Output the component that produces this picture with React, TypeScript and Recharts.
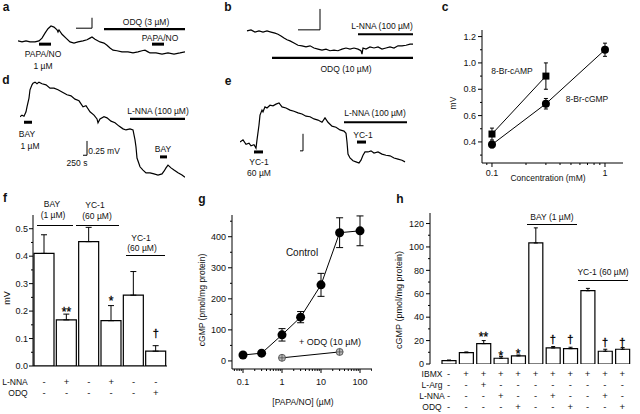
import React from "react"
import { ComposedChart, LineChart, Line, Bar, XAxis, YAxis, ErrorBar, ReferenceLine } from "recharts"

const FONT = "'Liberation Sans', Arial, Helvetica, sans-serif"
const INK = "#111"

// ---- recordings: [time (min), response (mV)] ----
const traceA: [number, number][] = [
  [0, 0.53], [4, 0.51], [8, 0.53], [12, 0.51], [17, 0.51], [21, 0.53], [24, 0.58], [27, 0.67], [30, 0.75],
  [33, 0.8], [36, 0.78], [39, 0.73], [40, 0.69], [41, 0.73], [44, 0.65], [48, 0.58], [52, 0.51], [56, 0.49],
  [60, 0.51], [65, 0.53], [69, 0.55], [72, 0.58], [74, 0.6], [77, 0.56], [82, 0.51], [86, 0.49], [89, 0.45],
  [92, 0.4], [95, 0.36], [99, 0.35], [104, 0.33], [110, 0.33], [115, 0.31], [120, 0.33], [124, 0.35],
  [127, 0.36], [130, 0.33], [132, 0.31], [138, 0.31], [144, 0.29], [150, 0.31], [156, 0.29], [162, 0.31], [167, 0.33],
]
const traceB: [number, number][] = [
  [2, 0.71], [6, 0.73], [10, 0.69], [14, 0.71], [18, 0.69], [22, 0.71], [26, 0.69], [30, 0.67], [33, 0.65],
  [36, 0.62], [39, 0.58], [42, 0.55], [45, 0.53], [49, 0.49], [53, 0.45], [57, 0.44], [61, 0.42], [65, 0.44],
  [69, 0.4], [73, 0.38], [77, 0.36], [81, 0.38], [85, 0.35], [89, 0.36], [93, 0.35], [97, 0.38], [101, 0.4],
  [105, 0.38], [109, 0.4], [113, 0.38], [116, 0.35], [117, 0.29], [118, 0.4], [121, 0.38], [125, 0.42],
  [129, 0.4], [133, 0.42], [137, 0.38], [141, 0.4], [145, 0.42], [149, 0.4], [153, 0.44], [157, 0.44],
  [161, 0.45], [165, 0.47], [168, 0.47],
]
const traceD: [number, number][] = [
  [0, 1.15], [2, 1.18], [4, 1.16], [6, 1.24], [7, 1.33], [9, 1.49], [10, 1.64], [12, 1.73], [13, 1.76],
  [15, 1.78], [17, 1.75], [19, 1.78], [22, 1.75], [26, 1.73], [30, 1.67], [34, 1.67], [38, 1.64], [42, 1.6],
  [47, 1.55], [51, 1.53], [55, 1.47], [59, 1.44], [63, 1.33], [66, 1.35], [70, 1.24], [74, 1.18], [77, 1.11],
  [78, 1.04], [80, 1.11], [84, 1.15], [87, 1.13], [91, 1.07], [95, 1.04], [99, 0.98], [103, 0.93], [106, 0.91],
  [110, 0.93], [113, 0.91], [115, 0.73], [116, 0.6], [117, 0.4], [120, 0.24], [123, 0.18], [126, 0.13],
  [130, 0.13], [134, 0.11], [138, 0.09], [142, 0.11], [144, 0.16], [146, 0.22], [148, 0.27], [151, 0.22],
  [154, 0.18], [158, 0.13], [162, 0.09], [165, 0.05],
]
const traceE: [number, number][] = [
  [0, 0.69], [3, 0.73], [6, 0.65], [9, 0.67], [11, 0.62], [14, 0.64], [16, 0.58], [17, 0.73], [19, 1.0],
  [20, 1.18], [22, 1.27], [23, 1.24], [25, 1.33], [27, 1.31], [30, 1.36], [33, 1.35], [36, 1.38], [39, 1.4],
  [42, 1.33], [46, 1.31], [50, 1.27], [54, 1.25], [58, 1.22], [62, 1.2], [66, 1.16], [70, 1.15], [74, 1.11],
  [78, 1.09], [82, 1.05], [85, 1.13], [88, 1.05], [92, 0.98], [96, 0.96], [100, 0.91], [104, 0.89], [106, 0.85],
  [107, 0.69], [108, 0.47], [110, 0.4], [113, 0.35], [116, 0.33], [119, 0.31], [121, 0.36], [123, 0.45],
  [125, 0.51], [128, 0.51], [131, 0.53], [134, 0.49], [138, 0.51], [142, 0.47], [146, 0.45], [150, 0.44],
  [154, 0.4], [158, 0.38], [162, 0.36], [165, 0.33],
]

// drug pulses and perfusions: [start, end, level]
const pulsesA: [number, number, number][] = [[21, 33, 0.47], [134, 146, 0.47]]
const perfA: [number, number, number][] = [[86, 167, 0.745]]
const pulsesB: [number, number, number][] = []
const perfB: [number, number, number][] = [[113, 168, 0.65], [27, 168, 0.22]]
const pulsesD: [number, number, number][] = [[4, 12, 1.05], [140, 147, 0.42]]
const perfD: [number, number, number][] = [[110, 165, 1.11]]
const pulsesE: [number, number, number][] = [[14, 23, 0.51], [117, 126, 0.69]]
const perfE: [number, number, number][] = [[104, 167, 1.05]]
// calibration bars: [t0, t1, v0, v1]
const calA = [58, 74, 0.76, 0.95]
const calB = [53, 75, 0.73, 1.11]
const calD = [63, 67, 0.45, 0.71]
const calE = [60, 63, 0.53, 0.84]

// ---- c: concentration-response ----
const cAmpConc = [0.1, 0.3]
const cAmpMv = [0.46, 0.9]
const cAmpErr = [0.045, 0.1]
const cGmpConc = [0.1, 0.3, 1]
const cGmpMv = [0.38, 0.69, 1.1]
const cGmpErr = [0.025, 0.04, 0.05]
const cYMajor = [0.4, 0.6, 0.8, 1.0, 1.2]
const cYTicks = [0.3, 0.4, 0.5, 0.6, 0.7, 0.8, 0.9, 1.0, 1.1, 1.2]
const cXMajor = [0.1, 1]
const cXTicks = [0.09, 0.1, 0.2, 0.3, 0.4, 0.5, 0.6, 0.7, 0.8, 0.9, 1]

// ---- f: bar chart ----
const fNames = ["BAY", "BAY+L-NNA", "YC-1", "YC-1+L-NNA", "YC-1 b", "YC-1+ODQ"]
const fMv = [0.41, 0.168, 0.453, 0.165, 0.258, 0.054]
const fErr = [0.068, 0.021, 0.052, 0.055, 0.086, 0.02]
const fSym = ["", "**", "", "*", "", "\u2020"]
const fSymAt = [null, 0.209, null, 0.251, null, 0.119]
const fLnna = ["-", "+", "-", "+", "-", "-"]
const fOdq = ["-", "-", "-", "-", "-", "+"]
const fYMajor = [0, 0.1, 0.2, 0.3, 0.4, 0.5]
const fYTicks = [0, 0.05, 0.1, 0.15, 0.2, 0.25, 0.3, 0.35, 0.4, 0.45, 0.5]

// ---- g: cGMP vs PAPA/NO ----
const gDose = [0.1, 0.3, 1, 3, 10, 30, 100]
const gCtrl = [19, 25, 84, 141, 245, 413, 419]
const gCtrlErr = [0, 0, 20, 18, 37, 48, 48]
const gOdqDose = [1, 30]
const gOdq = [10, 29]
const gYMajor = [0, 100, 200, 300, 400]
const gYTicks = [0, 50, 100, 150, 200, 250, 300, 350, 400, 450]
const gXMajor = [0.1, 1, 10, 100]
const gXTicks = [
  0.06, 0.07, 0.08, 0.09, 0.1, 0.2, 0.3, 0.4, 0.5, 0.6, 0.7, 0.8, 0.9, 1, 2, 3, 4, 5, 6, 7, 8, 9, 10,
  20, 30, 40, 50, 60, 70, 80, 90, 100, 200,
]

// ---- h: cGMP bars ----
const hNames = ["b1", "b2", "b3", "b4", "b5", "b6", "b7", "b8", "b9", "b10", "b11"]
const hCgmp = [2.9, 9.7, 17.4, 4.9, 6.9, 103.4, 13.7, 13.1, 62.6, 10.9, 12.6]
const hErr = [0.5, 0.6, 2.6, 1.4, 0.8, 12.9, 1.2, 1.2, 2, 1.7, 1.4]
const hSym = ["", "", "**", "*", "*", "", "\u2020", "\u2020", "", "\u2020", "\u2020"]
const hSymAt = [null, null, 25.7, 9.7, 11.4, null, 21.1, 21.1, null, 18.6, 18.6]
const hIbmx = ["-", "+", "+", "+", "+", "+", "+", "+", "+", "+", "+"]
const hLarg = ["-", "-", "+", "-", "-", "-", "-", "-", "-", "-", "-"]
const hLnna = ["-", "-", "-", "+", "-", "-", "+", "-", "-", "+", "-"]
const hOdq = ["-", "-", "-", "-", "+", "-", "-", "+", "-", "-", "+"]
const hYMajor = [0, 20, 40, 60, 80, 100, 120]
const hYTicks = [0, 10, 20, 30, 40, 50, 60, 70, 80, 90, 100, 110, 120]

const near = (arr: number[], v: number) => arr.some((m) => Math.abs(m - v) < 1e-9)

function leftTick(majors: number[], fmt: (v: number) => string, gap: number) {
  return (p: any) => {
    const v = p.payload.value
    const major = near(majors, v)
    return (
      <g>
        <line x1={p.x} x2={p.x - (major ? 4 : 2)} y1={p.y} y2={p.y} stroke="#000" strokeWidth={1} />
        {major ? (
          <text x={p.x - gap} y={p.y} dy="0.35em" textAnchor="end" fontSize={9} fill={INK} fontFamily={FONT}>
            {fmt(v)}
          </text>
        ) : null}
      </g>
    )
  }
}

function bottomTick(majors: number[], gap: number) {
  return (p: any) => {
    const v = p.payload.value
    const major = near(majors, v)
    return (
      <g>
        <line x1={p.x} x2={p.x} y1={p.y} y2={p.y + (major ? 4 : 2)} stroke="#000" strokeWidth={1} />
        {major ? (
          <text x={p.x} y={p.y + gap} dy="0.35em" textAnchor="middle" fontSize={9} fill={INK} fontFamily={FONT}>
            {String(v)}
          </text>
        ) : null}
      </g>
    )
  }
}

function signTick(rows: string[][], offsets: number[]) {
  return (p: any) => {
    const i = p.index
    return (
      <g>
        {rows.map((r, k) => (
          <text key={k} x={p.x} y={p.y + offsets[k]} dy="0.35em" textAnchor="middle" fontSize={9.5} fill={INK} fontFamily={FONT}>
            {r[i]}
          </text>
        ))}
      </g>
    )
  }
}

const symDot = (p: any) => {
  const s = p.payload?.sym
  if (!s || p.cy == null || isNaN(p.cy)) return <g key={`n${p.index}`} />
  const star = s.includes("*")
  return (
    <text key={`t${p.index}`} x={p.cx} y={p.cy} dy={star ? "0.62em" : "0.35em"} textAnchor="middle"
      fontSize={star ? 12 : 11} fill="#000" stroke="#000" strokeWidth={0.3} fontFamily={FONT}>
      {s}
    </text>
  )
}

function T({ x, y, s = 8.5, b = false, rot = false, children }: any) {
  return (
    <div
      style={{
        position: "absolute", left: x, top: y, whiteSpace: "nowrap", lineHeight: 1, fontFamily: FONT,
        fontSize: s, fontWeight: b ? "bold" : "normal", color: INK,
        transform: `translate(-50%, -50%)${rot ? " rotate(-90deg)" : ""}`,
      }}
    >
      {children}
    </div>
  )
}

function HLine({ x1, x2, y }: { x1: number; x2: number; y: number }) {
  return <div style={{ position: "absolute", left: x1, top: y, width: x2 - x1, height: 1, background: "#000" }} />
}

function Trace({ left, top, width, height, xMax, yMax, data, pulses, perf, cal }: any) {
  const rows = data.map(([t, v]: number[]) => ({ t, v }))
  const seg = (a: number, b: number, c: number, d: number, w: number, k: string) => (
    <ReferenceLine key={k} segment={[{ x: a, y: c }, { x: b, y: d }]} stroke="#000" strokeWidth={w} ifOverflow="visible" />
  )
  return (
    <div style={{ position: "absolute", left, top }}>
      <LineChart width={width} height={height} data={rows} margin={{ top: 0, right: 0, bottom: 0, left: 0 }}>
        <XAxis dataKey="t" type="number" domain={[0, xMax]} hide />
        <YAxis type="number" domain={[0, yMax]} hide />
        <Line dataKey="v" type="linear" stroke="#000" strokeWidth={1.2} dot={false} isAnimationActive={false} />
        {pulses.map(([a, b, v]: number[], i: number) => seg(a, b, v, v, 3, `p${i}`))}
        {perf.map(([a, b, v]: number[], i: number) => seg(a, b, v, v, 2.2, `f${i}`))}
        {seg(cal[0], cal[1], cal[2], cal[2], 1, "ch")}
        {seg(cal[1], cal[1], cal[2], cal[3], 1, "cv")}
      </LineChart>
    </div>
  )
}

export default function App() {
  const campRows = cAmpConc.map((x, i) => ({ x, y: cAmpMv[i], e: cAmpErr[i] }))
  const cgmpRows = cGmpConc.map((x, i) => ({ x, y: cGmpMv[i], e: cGmpErr[i] }))
  const fRows = fNames.map((name, i) => ({ name, v: fMv[i], e: [0, fErr[i]], s: fSymAt[i], sym: fSym[i] }))
  const ctrlRows = gDose.map((x, i) => ({ x, y: gCtrl[i], e: gCtrlErr[i] }))
  const odqRows = gOdqDose.map((x, i) => ({ x, y: gOdq[i] }))
  const hRows = hNames.map((name, i) => ({ name, v: hCgmp[i], e: [0, hErr[i]], s: hSymAt[i], sym: hSym[i] }))

  const squareDot = (p: any) => <rect key={`q${p.index}`} x={p.cx - 3.5} y={p.cy - 3.5} width={7} height={7} fill="#000" />
  const roundDot = (r: number) => (p: any) => <circle key={`c${p.index}`} cx={p.cx} cy={p.cy} r={r} fill="#000" />
  const crossDot = (p: any) => (
    <g key={`x${p.index}`}>
      <circle cx={p.cx} cy={p.cy} r={3.5} fill="#b8b8b8" stroke="#444" strokeWidth={0.8} />
      <line x1={p.cx - 3.5} x2={p.cx + 3.5} y1={p.cy} y2={p.cy} stroke="#444" strokeWidth={0.7} />
      <line x1={p.cx} x2={p.cx} y1={p.cy - 3.5} y2={p.cy + 3.5} stroke="#444" strokeWidth={0.7} />
    </g>
  )

  return (
    <div style={{ position: "absolute", left: 0, top: 0, width: 640, height: 414, background: "#fff", overflow: "hidden", fontFamily: FONT }}>
      {/* a */}
      <Trace left={18} top={15} width={167} height={55} xMax={167} yMax={1} data={traceA} pulses={pulsesA} perf={perfA} cal={calA} />
      <T x={6} y={7} s={12} b>a</T>
      <T x={43} y={54}>PAPA/NO</T>
      <T x={43} y={66}>1 µM</T>
      <T x={146} y={22}>ODQ (3 µM)</T>
      <T x={160} y={38}>PAPA/NO</T>

      {/* b */}
      <Trace left={245} top={4} width={170} height={66} xMax={170} yMax={1.2} data={traceB} pulses={pulsesB} perf={perfB} cal={calB} />
      <T x={228} y={7} s={12} b>b</T>
      <T x={382} y={26}>L-NNA (100 µM)</T>
      <T x={346} y={69}>ODQ (10 µM)</T>

      {/* c */}
      <div style={{ position: "absolute", left: 440, top: 20 }}>
        <LineChart width={183} height={163} margin={{ top: 10, right: 0, bottom: 0, left: 0 }}>
          <XAxis dataKey="x" type="number" scale="log" domain={[0.0816, 1.443]} allowDataOverflow ticks={cXTicks}
            interval={0} tickSize={0} tickMargin={0} tickLine={false} height={20} axisLine={{ stroke: "#000" }}
            tick={bottomTick(cXMajor, 10)} />
          <YAxis type="number" domain={[0.24, 1.25]} allowDataOverflow ticks={cYTicks} interval={0} tickSize={0}
            tickMargin={0} tickLine={false} width={42} axisLine={{ stroke: "#000" }}
            tick={leftTick(cYMajor, (v) => v.toFixed(1), 6)} />
          <Line data={campRows} dataKey="y" stroke="#000" strokeWidth={1} dot={squareDot} isAnimationActive={false}>
            <ErrorBar dataKey="e" width={2} stroke="#000" strokeWidth={1} />
          </Line>
          <Line data={cgmpRows} dataKey="y" stroke="#000" strokeWidth={1} dot={roundDot(4)} isAnimationActive={false}>
            <ErrorBar dataKey="e" width={2} stroke="#000" strokeWidth={1} />
          </Line>
        </LineChart>
      </div>
      <T x={445} y={7} s={12} b>c</T>
      <T x={512} y={71}>8-Br-cAMP</T>
      <T x={587} y={99}>8-Br-cGMP</T>
      <T x={548} y={178}>Concentration (mM)</T>
      <T x={453} y={103} rot>mV</T>

      {/* d */}
      <Trace left={20} top={70} width={165} height={110} xMax={165} yMax={2} data={traceD} pulses={pulsesD} perf={perfD} cal={calD} />
      <T x={6} y={80} s={12} b>d</T>
      <T x={27} y={134}>BAY</T>
      <T x={30} y={146}>1 µM</T>
      <T x={158} y={111}>L-NNA (100 µM)</T>
      <T x={163} y={149}>BAY</T>
      <T x={104} y={151}>0.25 mV</T>
      <T x={77} y={163}>250 s</T>

      {/* e */}
      <Trace left={240} top={70} width={167} height={110} xMax={167} yMax={2} data={traceE} pulses={pulsesE} perf={perfE} cal={calE} />
      <T x={228} y={81} s={12} b>e</T>
      <T x={259} y={162}>YC-1</T>
      <T x={259} y={173}>60 µM</T>
      <T x={375} y={113}>L-NNA (100 µM)</T>
      <T x={363} y={135}>YC-1</T>

      {/* f */}
      <div style={{ position: "absolute", left: 0, top: 205 }}>
        <ComposedChart width={167} height={209} data={fRows} margin={{ top: 10, right: 0, bottom: 0, left: 0 }}>
          <XAxis dataKey="name" interval={0} tickSize={0} tickMargin={0} tickLine={false} height={48}
            axisLine={{ stroke: "#000" }} tick={signTick([fLnna, fOdq], [16, 27])} />
          <YAxis type="number" domain={[0, 0.55]} allowDataOverflow ticks={fYTicks} interval={0} tickSize={0}
            tickMargin={0} tickLine={false} width={33} axisLine={{ stroke: "#000" }}
            tick={leftTick(fYMajor, (v) => v.toFixed(1), 5)} />
          <Bar dataKey="v" fill="#fff" stroke="#000" strokeWidth={1.2} barSize={20} isAnimationActive={false}>
            <ErrorBar dataKey="e" width={3} stroke="#000" strokeWidth={1} />
          </Bar>
          <Line dataKey="s" stroke="none" dot={symDot} isAnimationActive={false} />
        </ComposedChart>
      </div>
      <T x={5} y={198} s={12} b>f</T>
      <T x={52} y={204}>BAY</T>
      <T x={53} y={215}>(1 µM)</T>
      <HLine x1={37} x2={73} y={225} />
      <T x={95} y={205}>YC-1</T>
      <T x={97} y={216}>(60 µM)</T>
      <HLine x1={76} x2={119} y={225} />
      <T x={141} y={238}>YC-1</T>
      <T x={142} y={248}>(60 µM)</T>
      <HLine x1={126} x2={165} y={255} />
      <T x={15} y={382}>L-NNA</T>
      <T x={18} y={393}>ODQ</T>
      <T x={7} y={298} s={9} rot>mV</T>

      {/* g */}
      <div style={{ position: "absolute", left: 200, top: 205 }}>
        <LineChart width={172} height={189} margin={{ top: 10, right: 0, bottom: 0, left: 0 }}>
          <XAxis dataKey="x" type="number" scale="log" domain={[0.0522, 203]} allowDataOverflow ticks={gXTicks}
            interval={0} tickSize={0} tickMargin={0} tickLine={false} height={25} axisLine={{ stroke: "#000" }}
            tick={bottomTick(gXMajor, 12.5)} />
          <YAxis type="number" domain={[-26, 470]} allowDataOverflow ticks={gYTicks} interval={0} tickSize={0}
            tickMargin={0} tickLine={false} width={32} axisLine={{ stroke: "#000" }}
            tick={leftTick(gYMajor, (v) => String(v), 6)} />
          <Line data={ctrlRows} dataKey="y" stroke="#000" strokeWidth={1} dot={roundDot(4.5)} isAnimationActive={false}>
            <ErrorBar dataKey="e" width={3.5} stroke="#000" strokeWidth={1} />
          </Line>
          <Line data={odqRows} dataKey="y" stroke="#000" strokeWidth={1} dot={crossDot} isAnimationActive={false} />
        </LineChart>
      </div>
      <T x={202} y={199} s={12} b>g</T>
      <T x={302} y={253} s={10}>Control</T>
      <T x={330} y={342} s={9}>+ ODQ (10 µM)</T>
      <T x={303} y={402}>[PAPA/NO] (µM)</T>
      <T x={202} y={300} rot>cGMP (pmol/mg protein)</T>

      {/* h */}
      <div style={{ position: "absolute", left: 400, top: 203 }}>
        <ComposedChart width={231} height={211} data={hRows} margin={{ top: 10, right: 0, bottom: 0, left: 0 }}>
          <XAxis dataKey="name" interval={0} tickSize={0} tickMargin={0} tickLine={false} axisLine={false} height={50}
            padding={{ left: 10, right: 0 }} tick={signTick([hIbmx, hLarg, hLnna, hOdq], [10, 21, 32, 43])} />
          <YAxis type="number" domain={[0, 129]} allowDataOverflow ticks={hYTicks} interval={0} tickSize={0}
            tickMargin={0} tickLine={false} width={30} axisLine={{ stroke: "#000" }}
            tick={leftTick(hYMajor, (v) => String(v), 6)} />
          <Bar dataKey="v" fill="#fff" stroke="#000" strokeWidth={1.2} barSize={14} isAnimationActive={false}>
            <ErrorBar dataKey="e" width={2} stroke="#000" strokeWidth={1} />
          </Bar>
          <Line dataKey="s" stroke="none" dot={symDot} isAnimationActive={false} />
        </ComposedChart>
      </div>
      <T x={400} y={199} s={12} b>h</T>
      <T x={552} y={217}>BAY (1 µM)</T>
      <HLine x1={527} x2={577} y={224} />
      <T x={603} y={272}>YC-1 (60 µM)</T>
      <HLine x1={578} x2={628} y={280} />
      <T x={432} y={374}>IBMX</T>
      <T x={432} y={385}>L-Arg</T>
      <T x={432} y={396}>L-NNA</T>
      <T x={432} y={407}>ODQ</T>
      <T x={399} y={300} s={9} rot>cGMP (pmol/mg protein)</T>
    </div>
  )
}
